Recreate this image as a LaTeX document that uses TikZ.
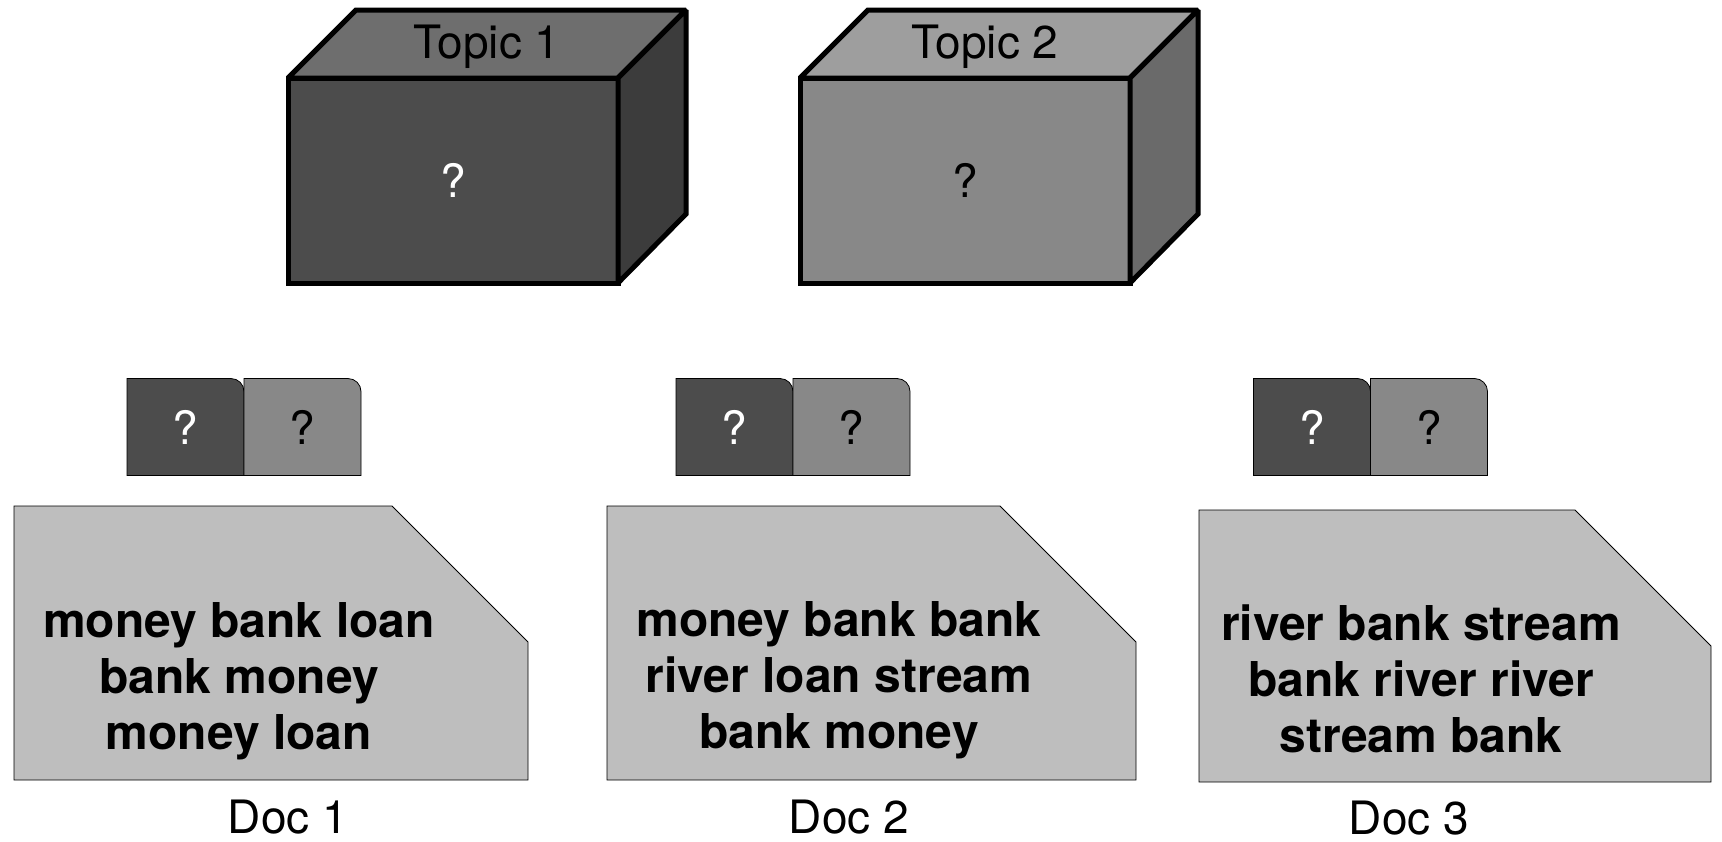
\documentclass[tikz,border=0pt]{standalone}
\usepackage{fontspec}
\setmainfont{TeX Gyre Heros}
\usetikzlibrary{backgrounds}

% grey shades
\definecolor{shadeA}{gray}{0.30}    % topic 1 front / first share
\definecolor{shadeB}{gray}{0.533}   % topic 2 front / second share
\definecolor{paper}{gray}{0.745}    % document sheet
\definecolor{topA}{gray}{0.43}
\definecolor{sideA}{gray}{0.235}
\definecolor{topB}{gray}{0.62}
\definecolor{sideB}{gray}{0.415}

\begin{document}
\begin{tikzpicture}[x=0.5pt,y=-0.5pt,line width=2.5pt,line join=miter,miter limit=2,
  every node/.style={outer sep=0pt,inner sep=0pt},
  plain/.style={font=\fontsize{23}{27}\selectfont},
  front/.style={draw,minimum width=165pt,minimum height=102.5pt,plain},
  share/.style={minimum width=58.5pt,minimum height=48.5pt,plain},
  sheet/.style={minimum height=137pt},
  words/.style={font=\fontsize{24}{28}\selectfont\bfseries,align=center}]
\useasboundingbox (0,0) rectangle (1722,841);

% ---- topic boxes (front face node, then top and side faces)
\node[front,fill=shadeA,text=white] (t1) at (453,180.5) {?};
\filldraw[fill=topA]  (t1.north west) -- ++(68,-68) -- ++(330,0) -- (t1.north east) -- cycle;
\filldraw[fill=sideA] (t1.north east) -- ++(68,-68) -- ++(0,204) -- (t1.south east) -- cycle;
\node[plain] (t1name) at (487,47) {Topic 1};

\node[front,fill=shadeB] (t2) at (965,180.5) {?};
\filldraw[fill=topB]  (t2.north west) -- ++(68,-68) -- ++(330,0) -- (t2.north east) -- cycle;
\filldraw[fill=sideB] (t2.north east) -- ++(68,-68) -- ++(0,204) -- (t2.south east) -- cycle;
\node[plain] (t2name) at (985,47) {Topic 2};

% ---- topic shares per document
\node[share,text=white] (s1a) at (185.5,427) {?};
\node[share]            (s1b) at (302.5,427) {?};
\node[share,text=white] (s2a) at (734.5,427) {?};
\node[share]            (s2b) at (851.5,427) {?};
\node[share,text=white] (s3a) at (1312,427) {?};
\node[share]            (s3b) at (1429,427) {?};

% ---- document sheets
\node[sheet,minimum width=257pt]   (d1) at (271,643) {};
\node[sheet,minimum width=264.5pt] (d2) at (871.5,643) {};
\node[sheet,minimum width=256pt,minimum height=136pt] (d3) at (1455,646) {};

\node[words] (w1) at (239,681)  {money bank loan\\bank money\\money loan};
\node[words] (w2) at (839,680)  {money bank bank\\river loan stream\\bank money};
\node[words] (w3) at (1421,679) {river bank stream\\bank river river\\stream bank};

\node[plain] (l1) at (288,817)  {Doc 1};
\node[plain] (l2) at (849,817)  {Doc 2};
\node[plain] (l3) at (1409,818) {Doc 3};

\begin{scope}[on background layer]
  \foreach \s/\c in {s1a/shadeA,s1b/shadeB,s2a/shadeA,s2b/shadeB,s3a/shadeA,s3b/shadeB}{
    \filldraw[fill=\c] (\s.south west) -- (\s.north west)
      -- ([xshift=-6.5pt]\s.north east) arc[start angle=90,end angle=0,radius=6.5pt]
      -- (\s.south east) -- cycle;
  }
  \foreach \d in {d1,d2,d3}{
    \filldraw[fill=paper] (\d.south west) -- (\d.north west)
      -- ([xshift=-68pt]\d.north east) -- ([yshift=-68pt]\d.north east)
      -- (\d.south east) -- cycle;
  }
\end{scope}
\end{tikzpicture}
\end{document}
